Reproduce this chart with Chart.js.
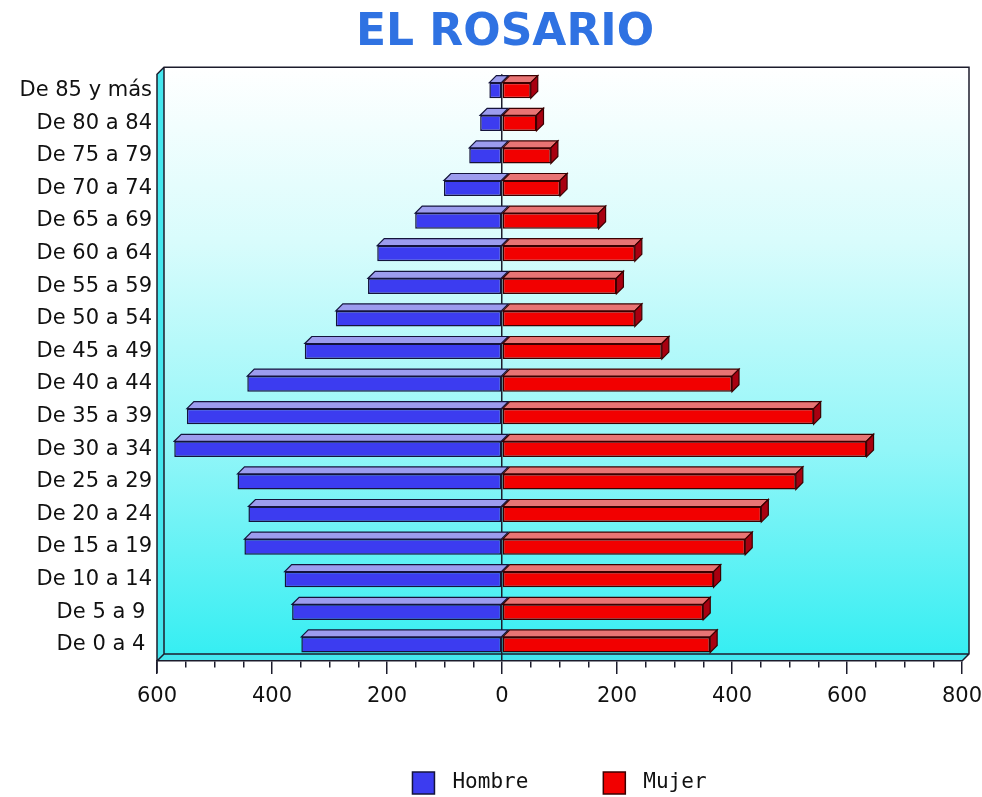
<!DOCTYPE html>
<html>
<head>
<meta charset="utf-8">
<title>El Rosario</title>
<script src="https://cdn.jsdelivr.net/npm/chart.js@4/dist/chart.umd.min.js"></script>
<style>
    html, body { margin: 0; padding: 0; background: #fff; }
    canvas { display: block; }
</style>
</head>
<body>
<canvas id="pyramid_chart" width="982" height="797"></canvas>
<script>
// age groups, top row first
const categories = [
    'De 85 y más', 'De 80 a 84', 'De 75 a 79', 'De 70 a 74', 'De 65 a 69',
    'De 60 a 64', 'De 55 a 59', 'De 50 a 54', 'De 45 a 49', 'De 40 a 44',
    'De 35 a 39', 'De 30 a 34', 'De 25 a 29', 'De 20 a 24', 'De 15 a 19',
    'De 10 a 14', 'De 5 a 9 ', 'De 0 a 4 '
];
// people per age group
const hombre = [22, 38, 57, 101, 151, 217, 233, 289, 343, 443, 548, 570, 460, 441, 448, 378, 365, 349];
const mujer  = [50, 60, 85, 101, 168, 231, 199, 231, 278, 400, 542, 634, 511, 451, 423, 368, 350, 362];

// x axis: 600 ... 0 ... 800, labels every 200, small ticks every 50
const xMin = -600;
const xMax = 800;
const xStep = 50;
const labelStep = 200;

const chartTitle = 'EL ROSARIO';

const DEPTH = 7;
const EDGE = '#1c1c2c';

// title sits a bit right of the page centre, like the original
const topTitle = {
    id: 'topTitle',
    afterDraw(chart) {
        const ctx = chart.ctx;
        ctx.save();
        ctx.font = 'bold 44px "DejaVu Sans"';
        ctx.fillStyle = '#2f72e2';
        ctx.textAlign = 'center';
        ctx.textBaseline = 'middle';
        ctx.fillText(chartTitle, 505, 34);
        ctx.restore();
    }
};

// back wall, left wall and floor of the 3d box
const box3d = {
    id: 'box3d',
    beforeDraw(chart) {
        const {ctx, chartArea: a} = chart;
        const d = DEPTH;
        ctx.save();
        const g = ctx.createLinearGradient(0, a.top - d, 0, a.bottom - d);
        g.addColorStop(0, '#ffffff');
        g.addColorStop(0.3, '#d8fcfc');
        g.addColorStop(0.65, '#92f6f8');
        g.addColorStop(1, '#36eef2');
        ctx.fillStyle = g;
        ctx.fillRect(a.left + d, a.top - d, a.right - a.left, a.bottom - a.top);

        ctx.fillStyle = '#44e6ee';
        ctx.beginPath();
        ctx.moveTo(a.left, a.top);
        ctx.lineTo(a.left + d, a.top - d);
        ctx.lineTo(a.left + d, a.bottom - d);
        ctx.lineTo(a.left, a.bottom);
        ctx.closePath();
        ctx.fill();
        ctx.beginPath();
        ctx.moveTo(a.left, a.bottom);
        ctx.lineTo(a.left + d, a.bottom - d);
        ctx.lineTo(a.right + d, a.bottom - d);
        ctx.lineTo(a.right, a.bottom);
        ctx.closePath();
        ctx.fill();

        ctx.strokeStyle = EDGE;
        ctx.lineWidth = 1.5;
        ctx.beginPath();
        ctx.moveTo(a.left, a.bottom + 12);
        ctx.lineTo(a.left, a.top);
        ctx.lineTo(a.left + d, a.top - d);
        ctx.lineTo(a.right + d, a.top - d);
        ctx.lineTo(a.right + d, a.bottom - d);
        ctx.lineTo(a.right, a.bottom);
        ctx.moveTo(a.left + d, a.top - d);
        ctx.lineTo(a.left + d, a.bottom - d);
        ctx.lineTo(a.right + d, a.bottom - d);
        ctx.moveTo(a.left, a.bottom);
        ctx.lineTo(a.left + d, a.bottom - d);
        ctx.stroke();
        ctx.restore();
    }
};

// top and end faces of every bar
const bars3d = {
    id: 'bars3d',
    afterDatasetsDraw(chart) {
        const ctx = chart.ctx;
        const d = DEPTH;
        ctx.save();
        ctx.lineWidth = 1.2;
        chart.data.datasets.forEach((ds, i) => {
            chart.getDatasetMeta(i).data.forEach(bar => {
                const {x, y, base, height} = bar.getProps(['x', 'y', 'base', 'height'], true);
                const top = y - height / 2;
                const bottom = y + height / 2;
                const left = Math.min(x, base);
                const right = Math.max(x, base);
                ctx.strokeStyle = ds.borderColor;

                ctx.fillStyle = ds.topColor;
                ctx.beginPath();
                ctx.moveTo(left, top);
                ctx.lineTo(left + d, top - d);
                ctx.lineTo(right + d, top - d);
                ctx.lineTo(right, top);
                ctx.closePath();
                ctx.fill();
                ctx.stroke();

                if (x > base) {
                    ctx.fillStyle = ds.sideColor;
                    ctx.beginPath();
                    ctx.moveTo(right, top);
                    ctx.lineTo(right + d, top - d);
                    ctx.lineTo(right + d, bottom - d);
                    ctx.lineTo(right, bottom);
                    ctx.closePath();
                    ctx.fill();
                    ctx.stroke();
                }
            });
        });
        ctx.restore();
    }
};

// legend under the axis, centred on the plot
const bottomLegend = {
    id: 'bottomLegend',
    afterDraw(chart) {
        const {ctx, chartArea: a} = chart;
        const box = 22, gap = 18, spacing = 75, cy = 783;
        ctx.save();
        ctx.font = '21px "DejaVu Sans Mono"';
        ctx.textBaseline = 'middle';
        const items = chart.data.datasets.map(ds => ({
            ds, w: box + gap + ctx.measureText(ds.label).width
        }));
        const total = items.reduce((s, it) => s + it.w, 0) + spacing * (items.length - 1);
        let x = (a.left + a.right) / 2 - total / 2;
        items.forEach(it => {
            ctx.fillStyle = it.ds.backgroundColor;
            ctx.fillRect(x, cy - box / 2, box, box);
            ctx.strokeStyle = it.ds.borderColor;
            ctx.lineWidth = 1.5;
            ctx.strokeRect(x, cy - box / 2, box, box);
            ctx.fillStyle = '#111';
            ctx.fillText(it.ds.label, x + box + gap, cy);
            x += it.w + spacing;
        });
        ctx.restore();
    }
};

const Data = {
    labels: categories,
    datasets: [{
        label: 'Hombre',
        data: hombre.map(v => -v),
        backgroundColor: '#3c3cf0',
        topColor: '#9c9cee',
        sideColor: '#2020a0',
        borderColor: '#14143c',
        borderWidth: 1.5,
        borderSkipped: false
    }, {
        label: 'Mujer',
        data: mujer,
        backgroundColor: '#f20000',
        topColor: '#e87474',
        sideColor: '#a80010',
        borderColor: '#3a0000',
        borderWidth: 1.5,
        borderSkipped: false
    }]
};

const config = {
    type: 'bar',
    data: Data,
    plugins: [box3d, bars3d, bottomLegend, topTitle],
    options: {
        indexAxis: 'y',
        responsive: false,
        animation: false,
        barPercentage: 0.48,
        categoryPercentage: 1,
        layout: {padding: {left: 0, right: 20, top: 74.2, bottom: 0}},
        plugins: {
            legend: {display: false},
            tooltip: {enabled: false},
            title: {display: false}
        },
        scales: {
            x: {
                stacked: true,
                min: xMin,
                max: xMax,
                afterFit: scale => {
                    scale.height = 136;
                    scale.paddingLeft = 0;
                    scale.paddingRight = 0;
                },
                border: {display: true, color: EDGE, width: 1.5},
                grid: {
                    color: c => (c.tick && c.tick.value === 0 ? EDGE : 'rgba(0,0,0,0)'),
                    lineWidth: 1.5,
                    tickColor: EDGE,
                    tickWidth: 1.5,
                    tickLength: 13,
                    tickBorderDash: c => (c.tick && c.tick.value % labelStep === 0 ? [] : [6, 40])
                },
                ticks: {
                    stepSize: xStep,
                    autoSkip: false,
                    maxRotation: 0,
                    padding: 10,
                    color: '#111',
                    font: {family: 'DejaVu Sans', size: 21},
                    callback: v => (v % labelStep === 0 ? String(Math.abs(v)) : '')
                }
            },
            y: {
                stacked: true,
                afterFit: scale => { scale.width = 157; },
                border: {display: false},
                grid: {display: false, drawTicks: false},
                ticks: {
                    padding: 5,
                    color: '#111',
                    font: {family: 'DejaVu Sans', size: 21}
                }
            }
        }
    }
};

const render_chart = () => {
    let context = document.getElementById('pyramid_chart');
    new Chart(context, config);
};
render_chart();
</script>
</body>
</html>
